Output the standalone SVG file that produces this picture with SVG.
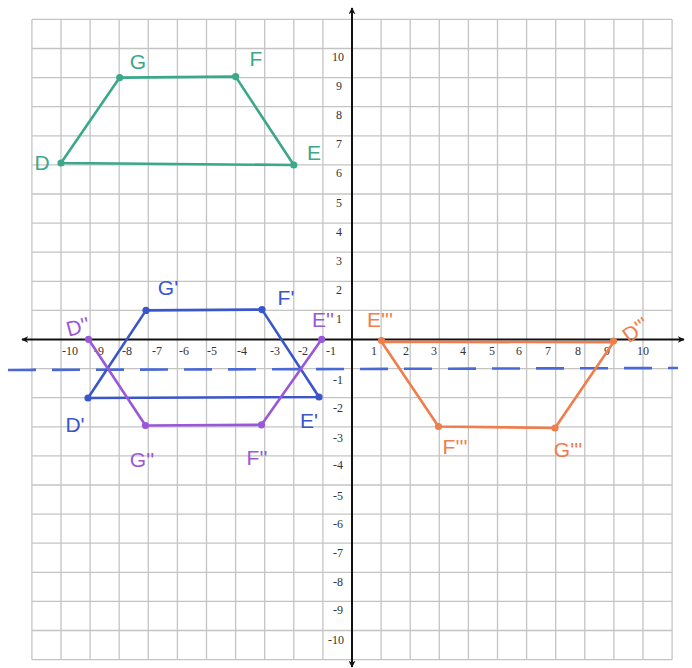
<svg xmlns="http://www.w3.org/2000/svg" width="692" height="668" viewBox="0 0 692 668">
<defs>
<style>
.grid line{stroke:#c4c4c4;stroke-width:1.3}
.ax{stroke:#111;stroke-width:2}
.tl{font-family:"Liberation Serif",serif;font-size:12px;fill:#333;text-anchor:middle}
.shape{fill:none;stroke-width:2.6;stroke-linejoin:round}
.lbl{font-family:"Liberation Sans",sans-serif;font-size:21px;text-anchor:middle}
</style>
<marker id="arr" viewBox="0 0 10 10" refX="9" refY="5" markerWidth="7" markerHeight="7" orient="auto-start-reverse" markerUnits="userSpaceOnUse">
<path d="M0,0 L10,5 L0,10 L3,5 z" fill="#111"/>
</marker>
</defs>
<rect width="692" height="668" fill="#fff"/>
<g class="grid" id="grid">
<line x1="31.9" y1="19.4" x2="31.9" y2="659.6"/><line x1="61" y1="19.4" x2="61" y2="659.6"/><line x1="90.1" y1="19.4" x2="90.1" y2="659.6"/><line x1="119.2" y1="19.4" x2="119.2" y2="659.6"/><line x1="148.3" y1="19.4" x2="148.3" y2="659.6"/><line x1="177.4" y1="19.4" x2="177.4" y2="659.6"/><line x1="206.5" y1="19.4" x2="206.5" y2="659.6"/><line x1="235.6" y1="19.4" x2="235.6" y2="659.6"/><line x1="264.7" y1="19.4" x2="264.7" y2="659.6"/><line x1="293.8" y1="19.4" x2="293.8" y2="659.6"/><line x1="322.9" y1="19.4" x2="322.9" y2="659.6"/><line x1="381.1" y1="19.4" x2="381.1" y2="659.6"/><line x1="410.2" y1="19.4" x2="410.2" y2="659.6"/><line x1="439.3" y1="19.4" x2="439.3" y2="659.6"/><line x1="468.4" y1="19.4" x2="468.4" y2="659.6"/><line x1="497.5" y1="19.4" x2="497.5" y2="659.6"/><line x1="526.6" y1="19.4" x2="526.6" y2="659.6"/><line x1="555.7" y1="19.4" x2="555.7" y2="659.6"/><line x1="584.8" y1="19.4" x2="584.8" y2="659.6"/><line x1="613.9" y1="19.4" x2="613.9" y2="659.6"/><line x1="643" y1="19.4" x2="643" y2="659.6"/><line x1="672.1" y1="19.4" x2="672.1" y2="659.6"/>
<line x1="31.9" y1="19.4" x2="672.1" y2="19.4"/><line x1="31.9" y1="48.5" x2="672.1" y2="48.5"/><line x1="31.9" y1="77.6" x2="672.1" y2="77.6"/><line x1="31.9" y1="106.7" x2="672.1" y2="106.7"/><line x1="31.9" y1="135.8" x2="672.1" y2="135.8"/><line x1="31.9" y1="164.9" x2="672.1" y2="164.9"/><line x1="31.9" y1="194" x2="672.1" y2="194"/><line x1="31.9" y1="223.1" x2="672.1" y2="223.1"/><line x1="31.9" y1="252.2" x2="672.1" y2="252.2"/><line x1="31.9" y1="281.3" x2="672.1" y2="281.3"/><line x1="31.9" y1="310.4" x2="672.1" y2="310.4"/><line x1="31.9" y1="368.6" x2="672.1" y2="368.6"/><line x1="31.9" y1="397.7" x2="672.1" y2="397.7"/><line x1="31.9" y1="426.8" x2="672.1" y2="426.8"/><line x1="31.9" y1="455.9" x2="672.1" y2="455.9"/><line x1="31.9" y1="485" x2="672.1" y2="485"/><line x1="31.9" y1="514.1" x2="672.1" y2="514.1"/><line x1="31.9" y1="543.2" x2="672.1" y2="543.2"/><line x1="31.9" y1="572.3" x2="672.1" y2="572.3"/><line x1="31.9" y1="601.4" x2="672.1" y2="601.4"/><line x1="31.9" y1="630.5" x2="672.1" y2="630.5"/><line x1="31.9" y1="659.6" x2="672.1" y2="659.6"/>
</g>
<g id="axes">
<line class="ax" x1="22" y1="339.5" x2="684" y2="339.5" marker-start="url(#arr)" marker-end="url(#arr)"/>
<line class="ax" x1="352" y1="8" x2="352" y2="667" marker-start="url(#arr)" marker-end="url(#arr)"/>
</g>
<g id="tick-labels" class="tl">
<text x="70" y="355">-10</text><text x="99" y="355">-9</text><text x="127" y="355">-8</text><text x="157" y="355">-7</text><text x="184" y="355">-6</text><text x="212" y="355">-5</text><text x="242" y="355">-4</text><text x="275" y="355">-3</text><text x="303" y="355">-2</text><text x="331" y="355">-1</text>
<text x="374" y="355">1</text><text x="406" y="355">2</text><text x="434" y="355">3</text><text x="463" y="355">4</text><text x="492" y="355">5</text><text x="519" y="355">6</text><text x="548" y="355">7</text><text x="578" y="355">8</text><text x="607" y="355">9</text><text x="643" y="355">10</text>
<text x="338" y="61">10</text><text x="339" y="90">9</text><text x="339" y="119">8</text><text x="339" y="148">7</text><text x="339" y="177">6</text><text x="339" y="207">5</text><text x="339" y="236">4</text><text x="339" y="265">3</text><text x="339" y="294">2</text><text x="339" y="323">1</text>
<text x="338" y="384">-1</text><text x="338" y="412">-2</text><text x="338" y="442">-3</text><text x="338" y="469">-4</text><text x="338" y="500">-5</text><text x="338" y="528">-6</text><text x="338" y="557">-7</text><text x="338" y="586">-8</text><text x="338" y="614">-9</text><text x="336" y="644">-10</text>
</g>
<g id="reflection-line">
<line x1="8" y1="370" x2="678" y2="368" stroke="#4a68d6" stroke-width="2.6" stroke-dasharray="28 16"/>
</g>
<g id="DEFG" fill="#3aa889">
<polygon class="shape" stroke="#3aa889" points="61,163 119.7,77.6 235.6,76.6 293.8,165"/>
<circle cx="61" cy="163" r="3.6"/><circle cx="119.7" cy="77.6" r="3.6"/><circle cx="235.6" cy="76.6" r="3.6"/><circle cx="293.8" cy="165" r="3.6"/>
<text class="lbl" x="42" y="170">D</text><text class="lbl" x="138" y="69">G</text><text class="lbl" x="256" y="66">F</text><text class="lbl" x="314" y="160">E</text>
</g>
<g id="D1E1F1G1" fill="#3b56c9">
<polygon class="shape" stroke="#3b56c9" points="88,398 146,310.4 262,309.6 319,397"/>
<circle cx="88" cy="398" r="3.6"/><circle cx="146" cy="310.4" r="3.6"/><circle cx="262" cy="309.6" r="3.6"/><circle cx="319" cy="397" r="3.6"/>
<text class="lbl" x="168" y="295">G'</text><text class="lbl" x="286" y="305">F'</text><text class="lbl" x="75" y="432">D'</text><text class="lbl" x="309" y="428">E'</text>
</g>
<g id="D2E2F2G2" fill="#9a58d8">
<polyline class="shape" stroke="#9a58d8" points="88.5,339.3 145.5,425.5 261.5,424.8 321.7,339.3"/>
<circle cx="88.5" cy="339.3" r="3.6"/><circle cx="145.5" cy="425.5" r="3.6"/><circle cx="261.5" cy="424.8" r="3.6"/><circle cx="321.7" cy="339.3" r="3.6"/>
<text class="lbl" x="78" y="334" transform="rotate(-15 78 327)">D''</text><text class="lbl" x="323" y="327">E''</text><text class="lbl" x="142" y="467">G''</text><text class="lbl" x="257" y="465">F''</text>
</g>
<g id="D3E3F3G3" fill="#f07d4c">
<polygon class="shape" stroke="#f07d4c" points="381.5,341.8 438.5,426.5 555,428 613.5,342.3"/>
<circle cx="381.5" cy="340.5" r="3.6"/><circle cx="438.5" cy="426.5" r="3.6"/><circle cx="555" cy="428" r="3.6"/><circle cx="613.5" cy="341" r="3.6"/>
<text class="lbl" x="380" y="327">E'''</text><text class="lbl" x="636" y="337" transform="rotate(-35 636 330)">D'''</text><text class="lbl" x="455" y="454">F'''</text><text class="lbl" x="568" y="457">G'''</text>
</g>
</svg>
